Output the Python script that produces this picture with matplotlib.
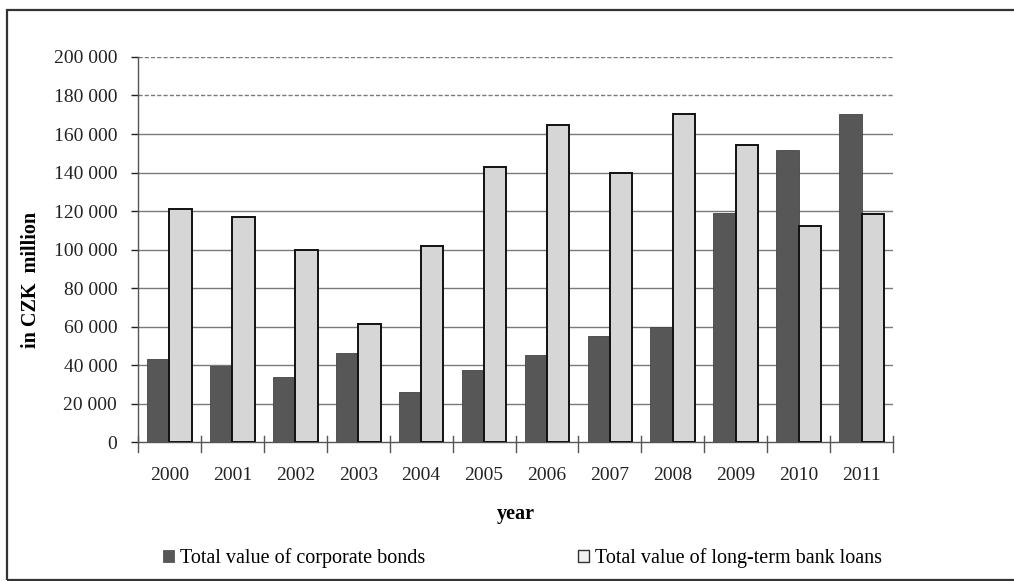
import matplotlib
matplotlib.use("Agg")
import matplotlib.pyplot as plt
import matplotlib.patches as mpatches
from matplotlib.ticker import FuncFormatter, MultipleLocator
import numpy as np

years = ["2000", "2001", "2002", "2003", "2004", "2005",
         "2006", "2007", "2008", "2009", "2010", "2011"]
corporate_bonds = [43000, 39600, 33900, 46200, 26000, 37400,
                   45400, 55100, 59700, 118800, 151700, 170400]
bank_loans = [121000, 117000, 99700, 61300, 101800, 143000,
              164500, 139900, 170200, 154100, 112200, 118600]
series_names = ["Total value of corporate bonds",
                "Total value of long-term bank loans"]

plt.rcParams["font.family"] = ["Liberation Serif", "DejaVu Serif"]

fig = plt.figure(figsize=(10.14, 5.81), dpi=100)
ax = fig.add_axes([0.1361, 0.2392, 0.8807 - 0.1361, 0.9019 - 0.2392])

x = np.arange(len(years))
w = 0.355
dark = "#575757"
light = "#d6d6d6"
ax.bar(x - w / 2, corporate_bonds, width=w, color=dark, edgecolor="#444444",
       linewidth=0.6, zorder=3)
ax.bar(x + w / 2, bank_loans, width=w, color=light, edgecolor="#111111",
       linewidth=1.4, zorder=3)

ax.set_xlim(-0.5, len(years) - 0.5)
ax.set_ylim(0, 200000)
ax.yaxis.set_major_locator(MultipleLocator(20000))
ax.yaxis.set_major_formatter(FuncFormatter(lambda v, p: f"{int(v):,}".replace(",", " ")))

# horizontal grid: top two lines dashed, the rest solid
for v in range(20000, 200001, 20000):
    ls = (0, (3, 1.5)) if v >= 180000 else "-"
    ax.axhline(v, color="#7a7a7a", linewidth=1.0, linestyle=ls, zorder=1)

ax.set_xticks(x)
ax.set_xticklabels(years)
ax.tick_params(axis="x", length=0, labelsize=14, pad=18, colors="#222222")
ax.tick_params(axis="y", length=5, labelsize=14, pad=10, colors="#222222",
               width=1.0)

# category boundary ticks on the x axis
for b in np.arange(-0.5, len(years) + 0.5, 1.0):
    ax.plot([b, b], [-5000, 3000], color="#555555", linewidth=1.0,
            clip_on=False, zorder=4)

for s in ("top", "right"):
    ax.spines[s].set_visible(False)
ax.spines["left"].set_color("#555555")
ax.spines["bottom"].set_color("#555555")
ax.spines["left"].set_linewidth(1.0)
ax.spines["bottom"].set_linewidth(1.0)

ax.set_ylabel("in CZK  million", fontsize=14.5, fontweight="bold")
ax.yaxis.set_label_coords((41 - 138) / (893 - 138), (442 - 280) / (442 - 57))
ax.set_xlabel("year", fontsize=14.5, fontweight="bold")
ax.xaxis.set_label_coords(0.5, -(514 - 442) / (442 - 57))
ax.xaxis.label.set_verticalalignment("center")

handles = [mpatches.Patch(facecolor=dark, edgecolor=dark, linewidth=0.6),
           mpatches.Patch(facecolor="#f2f2f2", edgecolor="#333333", linewidth=1.0)]
fig.legend(handles, series_names, loc="center", bbox_to_anchor=(0.5153, 1 - 558 / 581),
           ncol=2, frameon=False, fontsize=14.5, handlelength=0.55,
           handleheight=0.55, handletextpad=0.3, columnspacing=7.6)

# outer frame around the chart
fig.patches.append(mpatches.Rectangle((7 / 1014, 1 - 580 / 581),
                                      1.1, (580 - 10) / 581,
                                      transform=fig.transFigure, fill=False,
                                      edgecolor="#333333", linewidth=1.6))

fig.savefig("out.png", dpi=100)
